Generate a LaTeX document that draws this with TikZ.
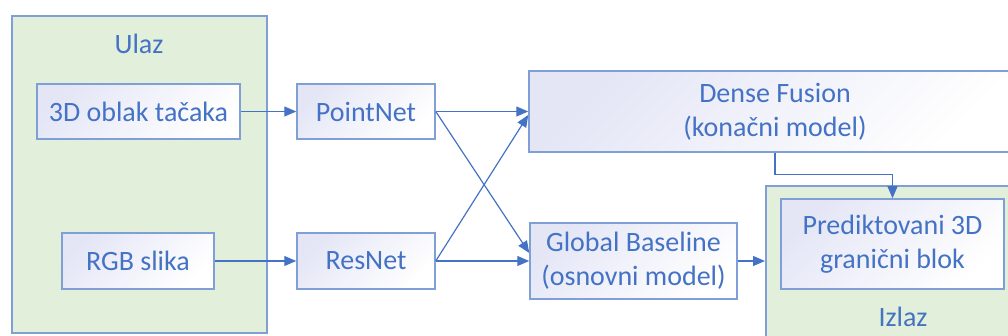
\documentclass[tikz,border=0pt]{standalone}
\usepackage{fontspec}
\setmainfont{Carlito}
\usetikzlibrary{arrows.meta}
\definecolor{tblue}{HTML}{4472C4}
\definecolor{bord}{HTML}{7F9FD6}
\definecolor{gfill}{HTML}{E2EFDA}
\definecolor{lav}{HTML}{E4E6F6}
\begin{document}
\begin{tikzpicture}[x=1pt,y=-1pt,
  font=\fontsize{28}{34}\selectfont, text=tblue,
  box/.style={draw=bord, line width=1.5pt, top color=lav, bottom color=white, shading angle=45, align=center, inner sep=0pt},
  grp/.style={draw=bord, line width=2pt, fill=gfill, inner sep=0pt},
  conn/.style={draw=tblue, line width=1.2pt, -{Triangle[length=12pt,width=10pt]}}]
\clip (0,0) rectangle (1008,336);
% groups
\node[grp, minimum width=255, minimum height=317, anchor=north west] (in) at (11,15) {};
\node (inl) at (139,44) {Ulaz};
\node[grp, minimum width=260, minimum height=170, anchor=north west] (out) at (765,185) {};
\node (outl) at (903,317) {Izlaz};
% boxes
\node[box, minimum width=203, minimum height=55] (pc) at (138.5,111.5) {3D oblak tačaka};
\node[box, minimum width=152, minimum height=56] (rgb) at (138,261) {RGB slika};
\node[box, minimum width=138, minimum height=55] (pn) at (366,111.5) {PointNet};
\node[box, minimum width=138, minimum height=56] (rn) at (366,261) {ResNet};
\node[box, minimum width=492, minimum height=81] (df) at (775,111.5) {Dense Fusion\\(konačni model)};
\node[box, minimum width=207, minimum height=76] (gb) at (633.5,261) {Global Baseline\\(osnovni model)};
\node[box, minimum width=223, minimum height=90] (pr) at (892.5,244) {Prediktovani 3D\\granični blok};
% connectors
\draw[conn] (pc.east) -- (pn.west);
\draw[conn] (rgb.east) -- (rn.west);
\draw[conn] (pn.east) -- (df.west);
\draw[conn] (rn.east) -- ([yshift=-3.5pt]df.west);
\draw[conn] (pn.east) -- ([yshift=8pt]gb.west);
\draw[conn] (rn.east) -- (gb.west);
\draw[conn] (gb.east) -- (gb.east -| out.west);
\draw[conn] (df.south) -- ++(0,22) -| (pr.north);
\end{tikzpicture}
\end{document}
